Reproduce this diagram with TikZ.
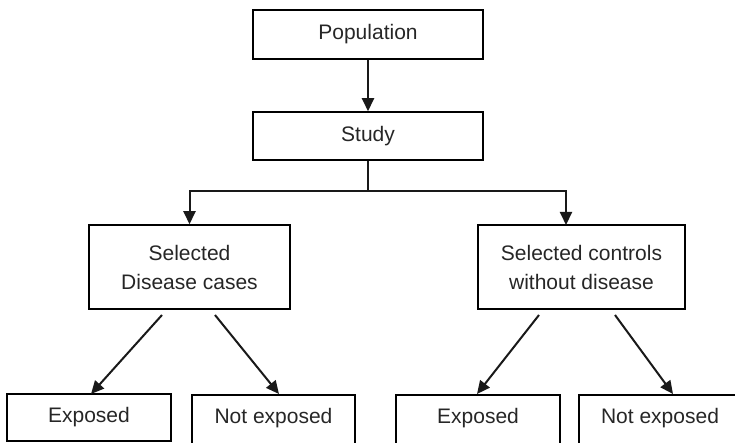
\documentclass[tikz,border=0pt]{standalone}
\usepackage{fontspec}
\setmainfont{Liberation Sans}
\usetikzlibrary{arrows.meta}
\begin{document}
\begin{tikzpicture}[x=1pt,y=-1pt,
  box/.style={draw=black,line width=1.5pt,inner sep=0pt,align=center,
    font=\fontsize{21}{29}\selectfont,text=black!85},
  conn/.style={line width=2pt,draw=black!90},
  arr/.style={conn,-{Triangle[length=13pt,width=12pt]}}]
\useasboundingbox (0,0) rectangle (735,443);
\clip (0,0) rectangle (735,443);
\node[box,minimum width=230pt,minimum height=49pt] (pop) at (368,34.5) {Population};
\node[box,minimum width=230pt,minimum height=48pt] (study) at (368,136) {Study};
\node[box,minimum width=201pt,minimum height=84pt] (cases) at (189.5,267) {Selected\\Disease cases};
\node[box,minimum width=207pt,minimum height=84pt] (ctrl) at (581.5,267) {Selected controls\\without disease};
\node[box,minimum width=164pt,minimum height=47pt] (e1) at (89,417.5) {Exposed};
\node[box,minimum width=163pt,minimum height=60pt,text depth=18pt] (n1) at (273.5,425) {Not exposed};
\node[box,minimum width=164pt,minimum height=60pt,text depth=18pt] (e2) at (478,425) {Exposed};
\node[box,minimum width=162pt,minimum height=60pt,text depth=18pt] (n2) at (660,425) {Not exposed};
\draw[arr] (pop) -- (study);
\coordinate (j) at (368,191);
\coordinate (rt) at (566,225);
\draw[conn] (study) -- (j);
\draw[arr] (j) -| (cases.north);
\draw[arr] (j) -| (rt);
\coordinate (c1) at (162,315);
\coordinate (c2) at (215,315);
\coordinate (c3) at (539,315);
\coordinate (c4) at (615,315);
\coordinate (t1) at (91,394);
\coordinate (t2) at (279,394);
\coordinate (t3) at (477,394);
\coordinate (t4) at (673,394);
\draw[arr] (c1) -- (t1);
\draw[arr] (c2) -- (t2);
\draw[arr] (c3) -- (t3);
\draw[arr] (c4) -- (t4);
\end{tikzpicture}
\end{document}
